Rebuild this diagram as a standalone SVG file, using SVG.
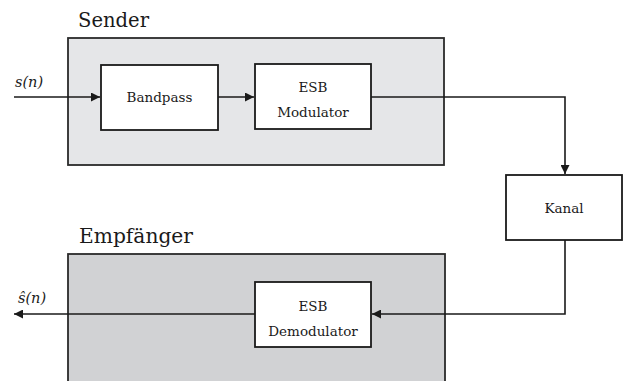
<svg xmlns="http://www.w3.org/2000/svg" width="624" height="381" viewBox="0 0 624 381">
  <defs>
    <marker id="arrow" viewBox="0 0 10 10" refX="10" refY="5" markerWidth="9" markerHeight="9" markerUnits="userSpaceOnUse" orient="auto">
      <path d="M0,0 L10,5 L0,10 z" fill="#1a1a1a"/>
    </marker>
    <style>
      .block { fill: #ffffff; stroke: #1a1a1a; stroke-width: 1.8; }
      .group { stroke: #2a2a2a; stroke-width: 1.8; }
      .title { font-family: 'DejaVu Serif', serif; font-size: 20px; fill: #1a1a1a; }
      .label { font-family: 'DejaVu Serif', serif; font-size: 13.5px; fill: #1a1a1a; text-anchor: middle; }
      .sig { font-family: 'DejaVu Serif', serif; font-size: 14.5px; font-style: italic; fill: #1a1a1a; }
      .wire { fill: none; stroke: #1a1a1a; stroke-width: 1.6; marker-end: url(#arrow); }
    </style>
  </defs>
  <rect width="624" height="381" fill="#ffffff"/>

  <!-- transmitter section -->
  <g id="sender">
    <rect class="group" x="68" y="38" width="376" height="127" fill="#e5e6e8"/>
    <text class="title" x="78" y="27" textLength="71" lengthAdjust="spacingAndGlyphs">Sender</text>
  </g>

  <!-- receiver section (runs off the bottom edge) -->
  <g id="empfaenger">
    <rect class="group" x="68" y="254" width="377" height="140" fill="#d1d2d4"/>
    <text class="title" x="79" y="243" textLength="114" lengthAdjust="spacingAndGlyphs">Empfänger</text>
  </g>

  <g id="bandpass">
    <rect class="block" x="101" y="65" width="117" height="65"/>
    <text class="label" x="159.5" y="102">Bandpass</text>
  </g>

  <g id="esb-modulator">
    <rect class="block" x="255" y="64" width="116" height="65"/>
    <text class="label" x="313" y="92">ESB</text>
    <text class="label" x="313" y="117">Modulator</text>
  </g>

  <g id="kanal">
    <rect class="block" x="506" y="175" width="116" height="65"/>
    <text class="label" x="564" y="213">Kanal</text>
  </g>

  <g id="esb-demodulator">
    <rect class="block" x="255" y="282" width="116" height="65"/>
    <text class="label" x="313" y="311">ESB</text>
    <text class="label" x="313" y="336">Demodulator</text>
  </g>

  <!-- signal flow -->
  <g id="connectors">
    <path class="wire" d="M14,97 H100"/>
    <path class="wire" d="M218,97 H254"/>
    <path class="wire" d="M371,97 H565 V174"/>
    <path class="wire" d="M565,240 V314 H372"/>
    <path class="wire" d="M255,314 H14"/>
  </g>

  <g id="signals">
    <text class="sig" x="15" y="87">s(n)</text>
    <text class="sig" x="18" y="303">ŝ(n)</text>
  </g>
</svg>
